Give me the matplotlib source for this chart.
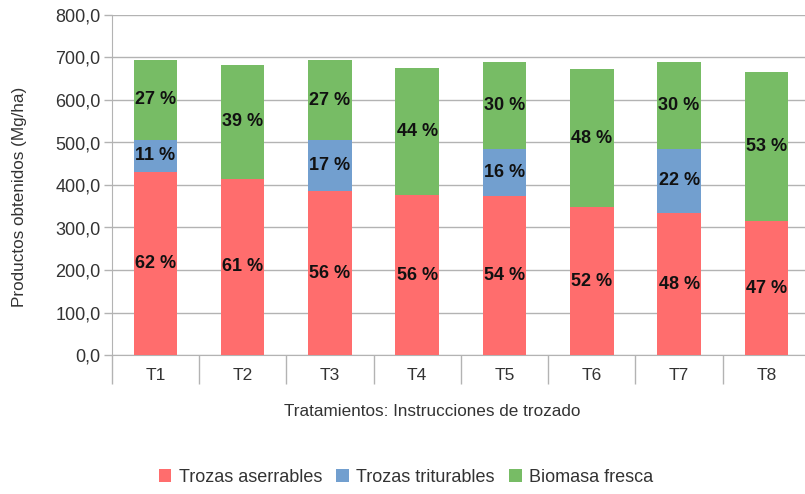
import numpy as np
import matplotlib.pyplot as plt
from matplotlib.ticker import FuncFormatter, FixedLocator

plt.rcParams['font.family'] = ['Liberation Sans', 'DejaVu Sans']

# Datos (Mg/ha)
tratamientos = ['T1', 'T2', 'T3', 'T4', 'T5', 'T6', 'T7', 'T8']
aserrables = [431, 415, 385, 376, 375, 348, 334, 315]
triturables = [76, 0, 121, 0, 110, 0, 151, 0]
biomasa = [186, 268, 187, 300, 205, 324, 205, 351]

series = [
    ('Trozas aserrables', aserrables, '#ff6d6d'),
    ('Trozas triturables', triturables, '#729fcf'),
    ('Biomasa fresca', biomasa, '#77bc65'),
]

fig = plt.figure(figsize=(8.05, 4.94), dpi=100)
ax = fig.add_axes([111.7 / 805, 139 / 494, (810 - 111.7) / 805, 340 / 494])

x = np.arange(len(tratamientos))
totales = np.array(aserrables) + np.array(triturables) + np.array(biomasa)
base = np.zeros(len(tratamientos))
for nombre, vals, color in series:
    vals = np.array(vals, dtype=float)
    ax.bar(x, vals, 0.5, bottom=base, color=color, label=nombre, zorder=3)
    for i, v in enumerate(vals):
        if v > 0:
            pct = int(round(v / totales[i] * 100))
            ax.text(x[i], base[i] + v / 2, f'{pct} %', ha='center', va='center',
                    fontsize=13, fontweight='bold', color='#111111', zorder=4)
    base += vals

ax.set_ylim(0, 800)
ax.set_xlim(-0.5, len(tratamientos) - 0.5)
ax.set_yticks(np.arange(0, 801, 100))
ax.yaxis.set_major_formatter(FuncFormatter(lambda v, p: f'{v:.1f}'.replace('.', ',')))
ax.grid(axis='y', color='#b3b3b3', linewidth=1, zorder=0)

# separadores de categoria y etiquetas centradas
ax.xaxis.set_major_locator(FixedLocator(np.arange(-0.5, len(tratamientos), 1.0)))
ax.xaxis.set_minor_locator(FixedLocator(x))
ax.set_xticklabels([])
ax.set_xticklabels(tratamientos, minor=True)
ax.tick_params(axis='x', which='major', length=21, width=1, color='#b3b3b3')
ax.tick_params(axis='x', which='minor', length=0, pad=9, labelsize=12.5, labelcolor='#333333')
ax.tick_params(axis='y', length=6, width=1, color='#b3b3b3', labelsize=13, labelcolor='#333333', pad=2)

for s in ['top', 'right']:
    ax.spines[s].set_visible(False)
for s in ['left', 'bottom']:
    ax.spines[s].set_color('#b3b3b3')

fig.text(20 / 805, 1 - 197 / 494, 'Productos obtenidos (Mg/ha)', rotation=90, ha='center', va='center',
         fontsize=12.3, color='#333333')
fig.text(432 / 805, 1 - 411 / 494, 'Tratamientos: Instrucciones de trozado', ha='center', va='center',
         fontsize=12.3, color='#333333')

fig.legend(loc='center', bbox_to_anchor=(406 / 805, 1 - 477 / 494), ncol=3, frameon=False,
           fontsize=13, handlelength=0.7, handleheight=0.7, handletextpad=0.4, columnspacing=0.8,
           labelcolor='#333333')

fig.savefig('out.png', dpi=100)
